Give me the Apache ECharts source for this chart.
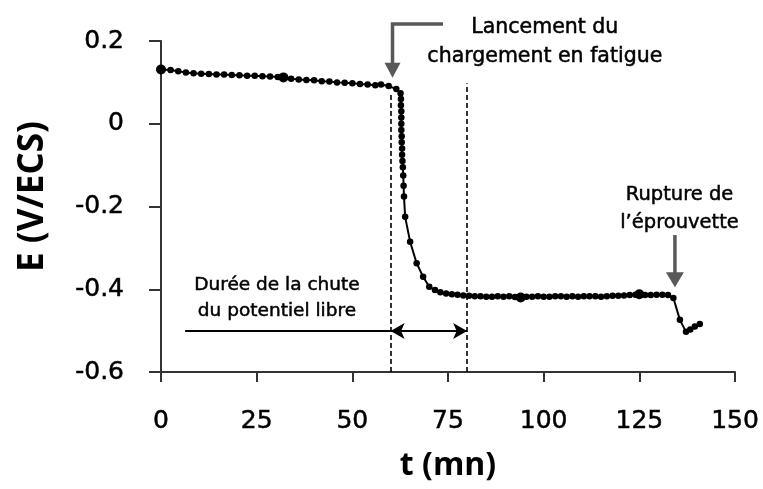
<!DOCTYPE html>
<html>
<head>
<meta charset="utf-8">
<script src="https://cdn.jsdelivr.net/npm/echarts@6/dist/echarts.min.js"></script>
<style>
  html, body { margin: 0; padding: 0; background: #fff; }
  #chart { width: 763px; height: 489px; }
</style>
</head>
<body>
<div id="chart"></div>
<script>
// Free potential E (V/ECS) versus time t (mn)
const timeMin = [
  0, 2.5, 4.5, 6.5, 8.5, 10.5, 12.5, 14.5, 16.5, 18.5, 20.5, 22.5, 24.5, 26.5, 28.5, 30.5,
  32, 34, 36, 38, 40, 42, 44, 46, 48, 50, 52, 54, 56, 57.5, 59.5, 61.5,
  62.6, 62.7, 62.7, 62.8, 62.8, 62.8, 62.8, 62.9, 62.9, 63.0, 63.0, 63.1, 63.2, 63.3, 63.4, 63.5,
  63.8, 65.1, 66.8, 68.5, 70.1, 71.6, 73, 74.5, 76, 77.5, 79,
  80.5, 82, 83.5, 85, 86.5, 88, 89.5, 91, 92.5, 94, 95.5, 97, 98.5, 100, 101.5, 103, 104.5,
  106, 107.5, 109, 110.5, 112, 113.5, 115, 116.5, 118, 119.5, 121, 122.5, 124, 125, 126.5,
  128, 129.5, 131, 132.5, 133.9, 135.6, 137.2, 138.3, 139.5, 140.8
];
const potential = [
  0.131, 0.130, 0.127, 0.124, 0.122, 0.121, 0.120, 0.119, 0.119, 0.118, 0.117, 0.116, 0.116, 0.115, 0.114, 0.113,
  0.112, 0.109, 0.107, 0.106, 0.105, 0.103, 0.102, 0.100, 0.099, 0.098, 0.096, 0.095, 0.093, 0.095, 0.091, 0.084,
  0.074, 0.060, 0.045, 0.030, 0.015, 0.000, -0.015, -0.030, -0.045, -0.060, -0.075, -0.090, -0.105, -0.125, -0.150, -0.176,
  -0.225, -0.285, -0.337, -0.370, -0.394, -0.402, -0.407, -0.410, -0.412, -0.413, -0.415,
  -0.416, -0.417, -0.417, -0.418, -0.418, -0.417, -0.418, -0.417, -0.419, -0.420, -0.418, -0.418, -0.417, -0.418, -0.418, -0.417, -0.417,
  -0.418, -0.417, -0.418, -0.417, -0.417, -0.417, -0.418, -0.417, -0.416, -0.416, -0.415, -0.414, -0.413, -0.412, -0.414,
  -0.414, -0.413, -0.413, -0.414, -0.421, -0.474, -0.503, -0.497, -0.490, -0.484
];
// Readings drawn with a heavier dot
const heavyPoints = [0, 32, 94, 125];

const xTicks = [0, 25, 50, 75, 100, 125, 150];
const yTicks = [-0.6, -0.4, -0.2, 0, 0.2];

// Event times (mn)
const loadStart = 60;
const dropEnd = 80;

const labelFont = 'DejaVu Sans';
const titleFont = 'Open Sans';
const arrowGrey = '#595959';
const axisColor = '#333333';
// thin outline gives the small texts a slightly heavier stroke
const textWeight = { textBorderColor: '#000', textBorderWidth: 0.5 };

const seriesData = timeMin.map((t, i) => ({
  value: [t, potential[i]],
  symbolSize: heavyPoints.includes(t) ? 10 : 6.5
}));

const chart = echarts.init(document.getElementById('chart'), null, { renderer: 'canvas' });

const option = {
  animation: false,
  backgroundColor: '#ffffff',
  grid: { left: 161, right: 28, top: 41, bottom: 117, containLabel: false },
  xAxis: {
    type: 'value',
    min: xTicks[0], max: xTicks[xTicks.length - 1], interval: 25,
    name: 't (mn)', nameLocation: 'middle', nameGap: 78,
    nameTextStyle: { fontFamily: titleFont, fontWeight: 'bold', fontSize: 32, color: '#000' },
    axisLine: { onZero: false, lineStyle: { color: axisColor, width: 2 } },
    axisTick: { show: true, inside: false, length: 10, lineStyle: { color: axisColor, width: 2 } },
    axisLabel: Object.assign({ fontFamily: labelFont, fontSize: 25, color: '#000', margin: 37 }, textWeight),
    splitLine: { show: false }
  },
  yAxis: {
    type: 'value',
    min: yTicks[0], max: yTicks[yTicks.length - 1], interval: 0.2,
    name: 'E (V/ECS)', nameLocation: 'middle', nameGap: 110, nameRotate: 90,
    nameTextStyle: { fontFamily: titleFont, fontWeight: 'bold', fontSize: 35, color: '#000', padding: [0, 0, 0, 20] },
    axisLine: { show: true, onZero: false, lineStyle: { color: axisColor, width: 2 } },
    axisTick: { show: true, inside: false, length: 12, lineStyle: { color: axisColor, width: 2 } },
    axisLabel: Object.assign({
      fontFamily: labelFont, fontSize: 25, color: '#000', margin: 37,
      formatter: v => (Math.abs(v) < 1e-9 ? '0' : String(Math.round(v * 10) / 10))
    }, textWeight),
    splitLine: { show: false }
  },
  series: [{
    type: 'line',
    data: seriesData,
    symbol: 'circle',
    showSymbol: true,
    itemStyle: { color: '#000' },
    lineStyle: { color: '#000', width: 2 },
    z: 5,
    markLine: {
      silent: true,
      symbol: 'none',
      label: { show: false },
      lineStyle: { color: '#000', type: [5, 3], width: 1.6 },
      data: [
        [{ coord: [loadStart, -0.6] }, { coord: [loadStart, 0.074] }],
        [{ coord: [dropEnd, -0.6] }, { coord: [dropEnd, 0.098] }],
        // double arrow spanning the drop duration
        [{ coord: [loadStart, -0.501], symbol: 'arrow', symbolSize: [12, 14],
           lineStyle: { type: 'solid', width: 1.8 } },
         { coord: [dropEnd, -0.501], symbol: 'arrow', symbolSize: [12, 14] }],
        // leader line from the caption
        [{ coord: [6.3, -0.501], lineStyle: { type: 'solid', width: 1.8 } },
         { coord: [loadStart, -0.501] }]
      ]
    }
  }]
};

chart.setOption(option);

// Annotations placed from data coordinates
function px(t, e) { return chart.convertToPixel({ gridIndex: 0 }, [t, e]); }

function drawAnnotations() {
  const corner = px(60.5, 0.241);
  const startH = px(73.7, 0.241);
  const tipA = px(60.5, 0.111);
  const rupTop = px(134.3, -0.269);
  const rupTip = px(134.3, -0.395);

  const arrowHead = (tip, w, h) => ({
    type: 'polygon',
    shape: { points: [[tip[0] - w / 2, tip[1] - h], [tip[0] + w / 2, tip[1] - h], [tip[0], tip[1]]] },
    style: { fill: arrowGrey }
  });

  const textEl = (t, e, str, size) => {
    const p = px(t, e);
    return {
      type: 'text', x: p[0], y: p[1],
      style: Object.assign({
        text: str, fontFamily: labelFont, fontSize: size, fill: '#000',
        align: 'center', verticalAlign: 'middle', lineHeight: size * 1.42,
        stroke: '#000', lineWidth: 0.5
      })
    };
  };

  chart.setOption({
    graphic: [
      { type: 'polyline',
        shape: { points: [startH, corner, [tipA[0], tipA[1] - 13]] },
        style: { stroke: arrowGrey, lineWidth: 3.5, fill: null } },
      arrowHead(tipA, 16, 15),
      { type: 'line',
        shape: { x1: rupTop[0], y1: rupTop[1], x2: rupTip[0], y2: rupTip[1] - 13 },
        style: { stroke: arrowGrey, lineWidth: 3.5 } },
      arrowHead(rupTip, 18, 15),
      textEl(100.3, 0.198, 'Lancement du\nchargement en fatigue', 20.5),
      textEl(135.5, -0.206, 'Rupture de\nl\u2019éprouvette', 19.5),
      textEl(30.3, -0.422, 'Durée de la chute\ndu potentiel libre', 18.5)
    ]
  });
}
drawAnnotations();
</script>
</body>
</html>
